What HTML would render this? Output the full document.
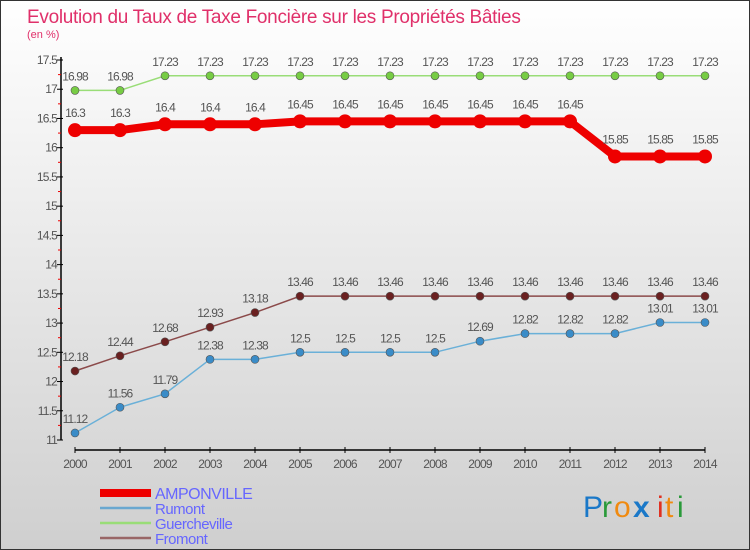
<!DOCTYPE html>
<html><head><meta charset="utf-8"><style>
html,body{margin:0;padding:0;width:750px;height:550px;overflow:hidden}
svg{display:block}
text{font-family:"Liberation Sans",sans-serif}
</style></head><body>
<svg id="c" width="750" height="550" viewBox="0 0 750 550">
<defs><linearGradient id="bg" x1="0" y1="0" x2="0" y2="1"><stop offset="0" stop-color="#ffffff"/><stop offset="1" stop-color="#cfcfcf"/></linearGradient></defs>
<rect x="0.5" y="0.5" width="749" height="549" fill="url(#bg)" stroke="#333"/>
<text x="27" y="23" font-size="19" fill="#e0306a" letter-spacing="-0.3">Evolution du Taux de Taxe Foncière sur les Propriétés Bâties</text>
<text x="27" y="38" font-size="11" fill="#e0306a">(en %)</text>
<g id="axes"></g><g id="series"></g><g id="legend"></g>
<g font-size="30" font-family="Liberation Sans,sans-serif">
<text x="583" y="517" fill="#1a78c8">P</text><text x="602" y="517" fill="#2a9a3a">r</text><text x="614" y="517" fill="#f08a10">o</text><text x="633" y="517" fill="#1a78c8" font-weight="bold">x</text><text x="657" y="517" fill="#e03020">i</text><text x="665" y="517" fill="#f08a10">t</text><text x="677" y="517" fill="#2a9a3a">i</text>
</g>
</svg>
<script>
const years=[2000,2001,2002,2003,2004,2005,2006,2007,2008,2009,2010,2011,2012,2013,2014];
const amponville=[16.3,16.3,16.4,16.4,16.4,16.45,16.45,16.45,16.45,16.45,16.45,16.45,15.85,15.85,15.85];
const rumont=[11.12,11.56,11.79,12.38,12.38,12.5,12.5,12.5,12.5,12.69,12.82,12.82,12.82,13.01,13.01];
const guercheville=[16.98,16.98,17.23,17.23,17.23,17.23,17.23,17.23,17.23,17.23,17.23,17.23,17.23,17.23,17.23];
const fromont=[12.18,12.44,12.68,12.93,13.18,13.46,13.46,13.46,13.46,13.46,13.46,13.46,13.46,13.46,13.46];
const yTicks=[11,11.5,12,12.5,13,13.5,14,14.5,15,15.5,16,16.5,17,17.5];
const NS='http://www.w3.org/2000/svg';
const X=i=>75+i*45;
const Y=v=>440-(v-11)*(380/6.5);
function mk(tag,at,parent){const e=document.createElementNS(NS,tag);for(const k in at)e.setAttribute(k,at[k]);parent.appendChild(e);return e;}
const ax=document.getElementById('axes');
let l=mk('line',{x1:61,y1:57,x2:61,y2:440,stroke:'#000','stroke-width':1.5},ax);


l=mk('line',{x1:75,y1:450,x2:705,y2:450,stroke:'#000','stroke-width':1.5},ax);


yTicks.forEach(v=>{
 mk('line',{x1:57,y1:Y(v),x2:63,y2:Y(v),stroke:'#000'},ax);
 if(v<17.5) mk('line',{x1:58,y1:Y(v+0.25),x2:61,y2:Y(v+0.25),stroke:'#e00'},ax);
 const t=mk('text',{x:57,y:Y(v)+4,'text-anchor':'end','font-size':12,fill:'#555','letter-spacing':'-0.8'},ax);
 t.textContent=String(v);
 
 
});
years.forEach((yr,i)=>{
 mk('line',{x1:X(i),y1:447,x2:X(i),y2:453,stroke:'#000'},ax);
 const t=mk('text',{x:X(i),y:468,'text-anchor':'middle','font-size':12,fill:'#555','letter-spacing':'-0.8'},ax);
 t.textContent=String(yr);
 
 
});
const sg=document.getElementById('series');
function series(vals,name,color,dot,lw,r){
 const g=mk('g',{},sg);
 
 
 mk('polyline',{points:vals.map((v,i)=>X(i)+','+Y(v)).join(' '),fill:'none',stroke:color,'stroke-width':lw},g);
 vals.forEach((v,i)=>{
  const c=mk('circle',{cx:X(i),cy:Y(v),r:r,fill:dot,stroke:lw>3?dot:'#555','stroke-width':lw>3?0:0.6},g);
  
  
  const t=mk('text',{x:X(i),y:Y(v)-(lw>3?13:10),'text-anchor':'middle','font-size':12,fill:'#555','letter-spacing':'-0.9'},g);
  t.textContent=String(v);
  
  
 });
}
series(guercheville,'guercheville','#99dd77','#77cc44',1.5,4);
series(fromont,'fromont','#8b4a4a','#6a2020',1.5,4);
series(rumont,'rumont','#6ab0d8','#3a8cc8',1.5,4);
series(amponville,'amponville','#ee0000','#ee0000',8,7);
const lg=document.getElementById('legend');
const names=['AMPONVILLE','Rumont','Guercheville','Fromont'];
const cols=['#ee0000','#6aa8d0','#99dd77','#996666'];
const widths=[8,2.5,2.5,2.5];
names.forEach((n,i)=>{
 const y=493+i*15;
 const ln=mk('line',{x1:100,y1:y,x2:151,y2:y,stroke:cols[i],'stroke-width':widths[i]},lg);
 
 
 const t=mk('text',{x:155,y:y+6,'font-size':i==0?16:15,fill:'#6666ff','letter-spacing':'-0.5'},lg);
 t.textContent=n;
 
 
});
</script>
</body></html>
